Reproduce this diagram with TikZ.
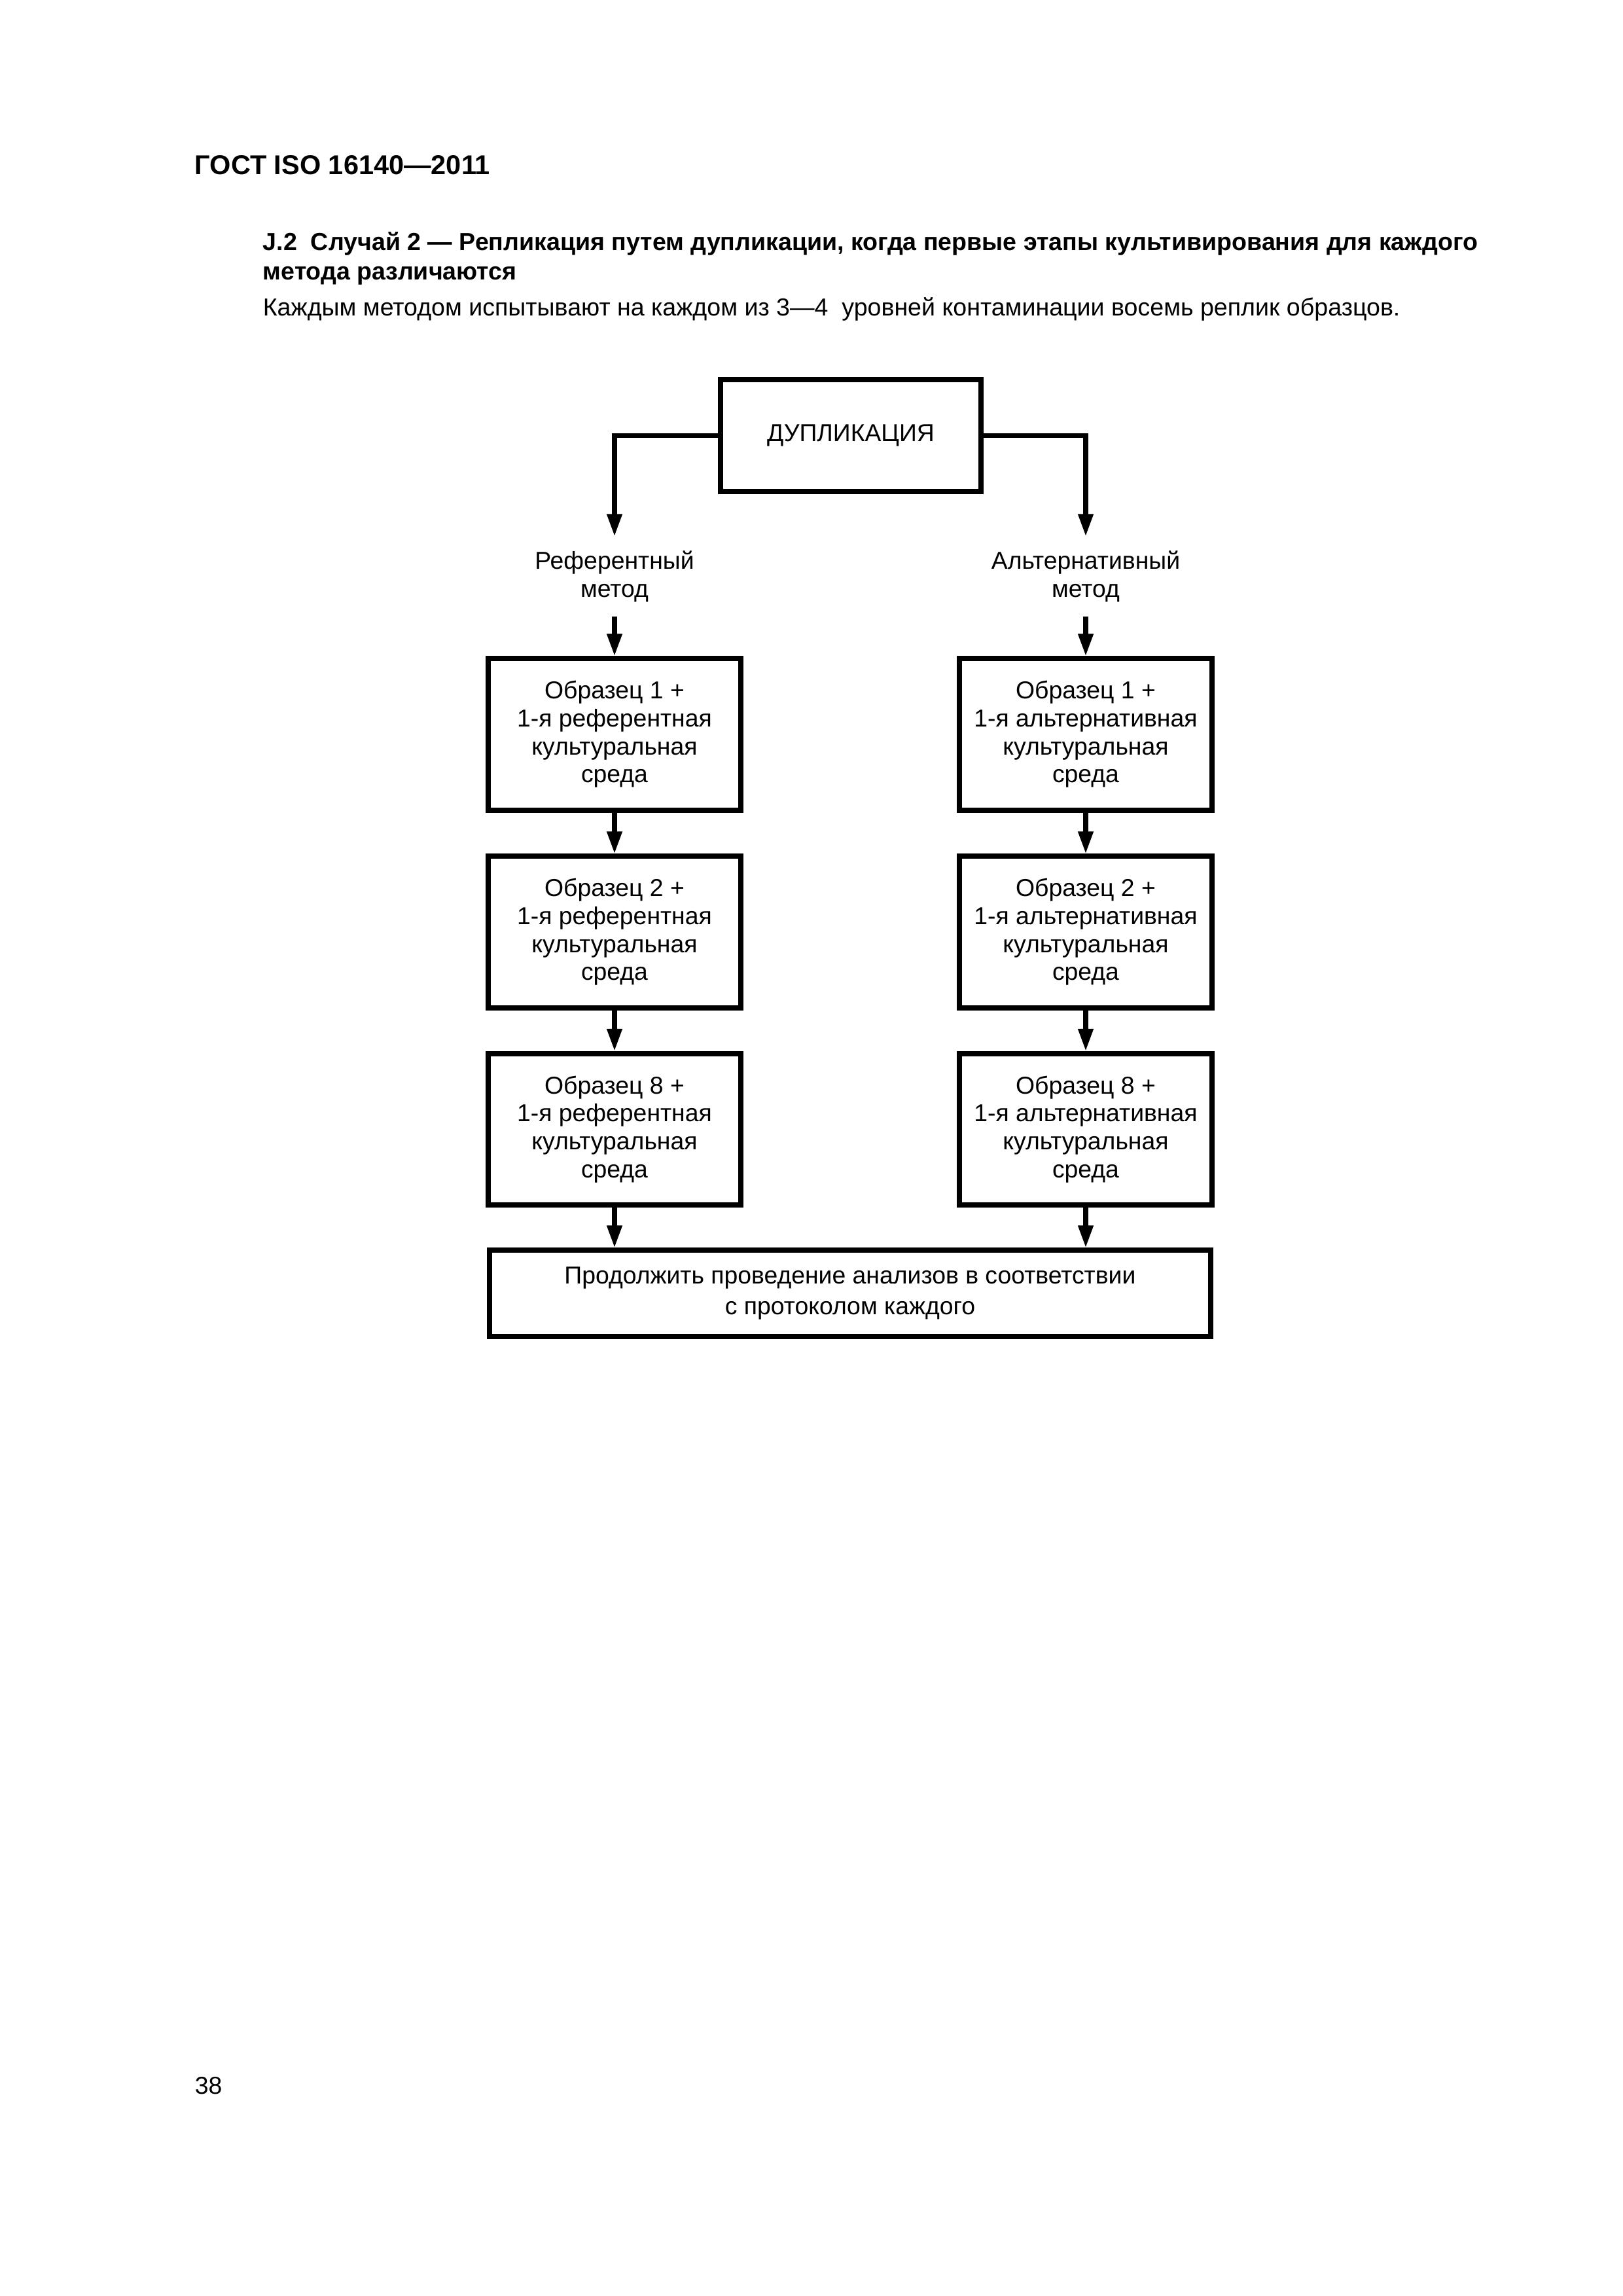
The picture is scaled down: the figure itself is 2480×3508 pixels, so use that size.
\documentclass[tikz,border=0pt]{standalone}
\usepackage{fontspec}
\setmainfont{Liberation Sans}
\usetikzlibrary{arrows.meta}
\begin{document}
\begin{tikzpicture}[x=0.0846774mm,y=-0.0846774mm,
  box/.style={draw, line width=1.9pt, align=center, inner sep=0pt,
    font=\fontsize{9}{10.3}\selectfont, minimum width=92.9pt, minimum height=55.7pt},
  bigbox/.style={box, font=\fontsize{9}{11.3}\selectfont, minimum width=265.5pt, minimum height=31.6pt},
  dupbox/.style={box, minimum width=96pt, minimum height=41pt},
  arr/.style={line width=1.7pt, -{Triangle[length=8.2pt,width=5.3pt]}},
  lbl/.style={align=center, inner sep=0pt, font=\fontsize{9}{10.3}\selectfont, minimum height=29pt},
  txt/.style={anchor=base west, inner sep=0pt}]
\useasboundingbox (0,0) rectangle (2480,3508);

% page texts
\node[txt, font=\fontsize{10}{12}\selectfont\bfseries] (hdr) at (297,266) {ГОСТ ISO 16140—2011};
\node[txt, font=\fontsize{9.05}{11}\selectfont\bfseries] (h1) at (401,382) {J.2\ \ Случай 2 — Репликация путем дупликации, когда первые этапы культивирования для каждого};
\node[txt, font=\fontsize{9.05}{11}\selectfont\bfseries] (h2) at (401,427) {метода различаются};
\node[txt, font=\fontsize{9.05}{11}\selectfont] (body) at (401,482) {Каждым методом испытывают на каждом из 3—4\ \ уровней контаминации восемь реплик образцов.};
\node[txt, font=\fontsize{9}{11}\selectfont] (pg) at (297,3199) {38};

% diagram
\node[dupbox] (dup) at (1300,665.5) {ДУПЛИКАЦИЯ};
\node[lbl] (lref) at (939,880.5) {Референтный\\метод};
\node[lbl] (lalt) at (1659,880.5) {Альтернативный\\метод};

\node[box] (r1) at (939,1122) {Образец 1 +\\1-я референтная\\культуральная\\среда};
\node[box] (r2) at (939,1424) {Образец 2 +\\1-я референтная\\культуральная\\среда};
\node[box] (r3) at (939,1725.5) {Образец 8 +\\1-я референтная\\культуральная\\среда};
\node[box] (a1) at (1659,1122) {Образец 1 +\\1-я альтернативная\\культуральная\\среда};
\node[box] (a2) at (1659,1424) {Образец 2 +\\1-я альтернативная\\культуральная\\среда};
\node[box] (a3) at (1659,1725.5) {Образец 8 +\\1-я альтернативная\\культуральная\\среда};

\node[bigbox] (fin) at (1299,1976) {Продолжить проведение анализов в соответствии\\с протоколом каждого};

\draw[arr] (dup.west) -| (lref.north);
\draw[arr] (dup.east) -| (lalt.north);
\draw[arr] (lref.south) -- (r1.north);
\draw[arr] (lalt.south) -- (a1.north);
\draw[arr] (r1.south) -- (r2.north);
\draw[arr] (r2.south) -- (r3.north);
\draw[arr] (a1.south) -- (a2.north);
\draw[arr] (a2.south) -- (a3.north);
\draw[arr] (r3.south) -- (r3.south |- fin.north);
\draw[arr] (a3.south) -- (a3.south |- fin.north);
\end{tikzpicture}
\end{document}
